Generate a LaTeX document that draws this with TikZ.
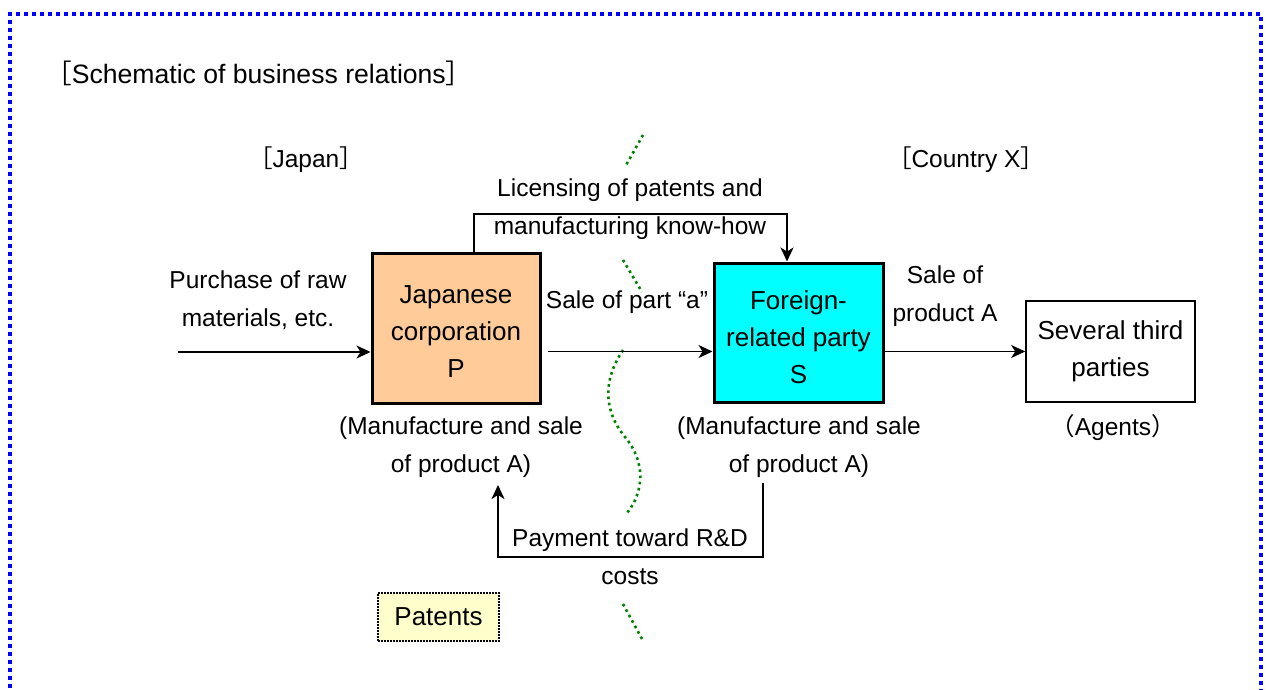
\documentclass[tikz,border=0pt]{standalone}
\usepackage{fontspec}
\setmainfont{Liberation Sans}
\newfontfamily\cjk{Noto Sans CJK JP}
\usetikzlibrary{positioning,arrows.meta}
\definecolor{peach}{HTML}{FFCC99}
\definecolor{aqua}{HTML}{00FFFF}
\definecolor{paleyellow}{HTML}{FFFFCC}
\definecolor{frameblue}{HTML}{0000FF}
\definecolor{bordergreen}{HTML}{008000}
\begin{document}
\begin{tikzpicture}[x=1pt,y=-1pt,font=\fontsize{24.5}{38}\selectfont,
  lbl/.style={align=center,inner sep=0pt},
  big/.style={lbl,font=\fontsize{26}{37}\selectfont},
  party/.style={draw,line width=3pt},
  arr/.style={-{Stealth[length=14pt,width=13pt,inset=4pt]},line width=1.8pt},
  border/.style={bordergreen,line width=2.6pt,dash pattern=on 2.6pt off 3.6pt}]
\useasboundingbox (0,0) rectangle (1268,689);
% frame
\draw[frameblue,line width=4pt,dash pattern=on 4pt off 4pt] (10,720) -- (10,14) -- (1261,14) -- (1261,720);
% border between Japan and country X
\draw[border] (643,135) -- (625,167);
\draw[border] (623,260) -- (642,292);
\draw[border] (623,350) .. controls (603,380) and (603,410) .. (625,437)
  .. controls (646,462) and (644,492) .. (627,513);
\draw[border] (623,604) -- (642,639);
% titles
\node[lbl,font=\fontsize{26.6}{37}\selectfont,anchor=west] (title) at (45,73) {{\cjk ［}Schematic of business relations{\cjk ］}};
\node[lbl] (japan) at (306,160) {{\cjk ［}Japan{\cjk ］}};
\node[lbl] (countryx) at (966,160) {{\cjk ［}Country X{\cjk ］}};
% parties
\node[party,fill=peach,minimum width=168,minimum height=150] (p) at (456,328) {};
\node[big] (ptext) at (456,332) {Japanese\\corporation\\P};
\node[party,fill=aqua,minimum width=169,minimum height=139] (s) at (798.5,332.5) {};
\node[big] (stext) at (798.5,337) {Foreign-\\related party\\S};
\node[big,draw,line width=1.6pt,minimum width=169,minimum height=101] (t) at (1110.5,351.5) {Several third\\parties};
\node[big,draw,densely dotted,line width=2pt,fill=paleyellow,minimum width=121,minimum height=48] (patents) at (438.5,617) {Patents};
% labels
\node[lbl] (purch) at (258,300) {Purchase of raw\\materials, etc.};
\node[lbl] (salea) at (627,302) {Sale of part “a”};
\node[lbl] (saleA) at (945,296) {Sale of\\product A};
\node[lbl] (lic) at (630,209) {Licensing of patents and\\manufacturing know-how};
\node[lbl] (pm) at (461,447) {(Manufacture and sale\\of product A)};
\node[lbl] (sm) at (799,447) {(Manufacture and sale\\of product A)};
\node[lbl] (agents) at (1113,428) {{\cjk （}Agents{\cjk ）}};
\node[lbl] (pay) at (630,557) {Payment toward R\&D\\costs};
% flows
\coordinate (buy) at (178,352);
\draw[arr] (buy) -- (p.west |- buy);
\draw[arr] ([xshift=6pt]p.east |- t.center) -- (s.west |- t.center);
\draw[arr] (s.east |- t.center) -- (t.west);
\draw[arr] ([xshift=18pt]p.north) |- (lic.center |- 0,214) -| ([xshift=-11.5pt]s.north);
\coordinate (payS) at (763,483);
\coordinate (payP) at (498,485);
\draw[arr] (payS) |- (pay.center) -| (payP);
\end{tikzpicture}
\end{document}
